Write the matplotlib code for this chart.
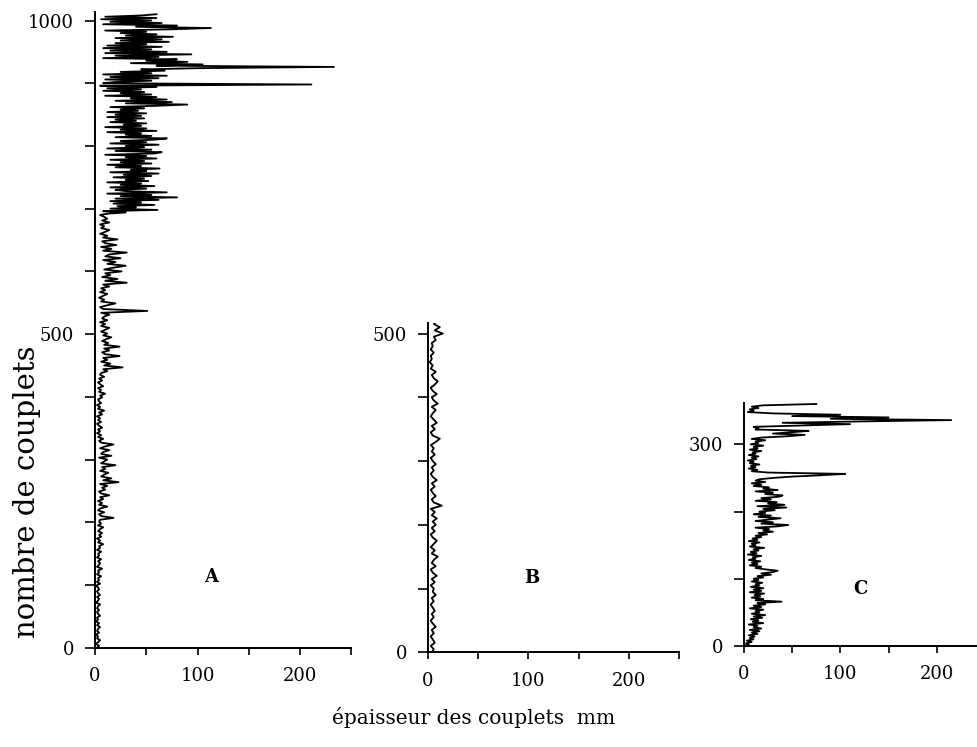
import numpy as np
import matplotlib.pyplot as plt

# couplet thickness (mm)
# A, lower part: one value every 3 couplets (0-687)
thick_A_low = [
    2, 4, 1, 3, 5, 2, 3, 1, 4, 2,
    3, 5, 2, 4, 1, 3, 2, 5, 3, 2,
    4, 2, 3, 5, 1, 3, 4, 2, 5, 3,
    2, 4, 3, 1, 5, 2, 4, 3, 6, 2,
    4, 3, 7, 2, 4, 5, 3, 6, 2, 4,
    3, 6, 2, 5, 4, 8, 3, 5, 2, 6,
    4, 7, 3, 5, 8, 3, 6, 4, 5, 18,
    6, 4, 9, 3, 5, 12, 4, 7, 3, 8,
    5, 14, 6, 4, 10, 7, 12, 5, 23, 8,
    16, 6, 9, 13, 5, 10, 7, 20, 6, 9,
    12, 4, 16, 6, 8, 14, 5, 10, 18, 6,
    4, 8, 3, 6, 2, 5, 3, 7, 4, 2,
    6, 3, 5, 2, 7, 4, 9, 3, 5, 2,
    6, 4, 3, 7, 5, 10, 4, 6, 3, 8,
    5, 3, 7, 4, 9, 5, 6, 12, 8, 27,
    9, 15, 6, 12, 8, 24, 10, 7, 14, 9,
    24, 9, 13, 7, 11, 16, 8, 12, 6, 10,
    14, 6, 10, 5, 12, 7, 9, 14, 6, 51,
    8, 5, 12, 20, 6, 9, 4, 8, 12, 5,
    10, 6, 14, 8, 31, 10, 22, 7, 15, 10,
    26, 9, 18, 30, 12, 20, 8, 25, 10, 14,
    31, 8, 16, 6, 21, 10, 7, 22, 8, 12,
    5, 10, 14, 6, 9, 5, 14, 7, 12, 9,
]
# A, upper part: one value every 2 couplets (690-1010)
thick_A_high = [
    5, 12, 30, 8, 61, 15, 40, 22, 58, 18,
    45, 15, 62, 20, 80, 25, 55, 12, 70, 30,
    20, 50, 15, 58, 25, 45, 12, 52, 30, 48,
    18, 55, 28, 62, 15, 50, 35, 63, 20, 45,
    12, 55, 25, 48, 15, 60, 30, 50, 10, 58,
    65, 20, 55, 12, 48, 30, 62, 15, 50, 25,
    58, 70, 20, 55, 30, 45, 12, 60, 25, 50,
    10, 45, 28, 50, 15, 40, 20, 48, 12, 45,
    20, 50, 12, 42, 25, 48, 15, 60, 90, 30,
    75, 20, 70, 35, 60, 10, 55, 25, 48, 8,
    45, 12, 60, 5, 211, 8, 20, 55, 10, 62,
    15, 70, 8, 55, 25, 68, 45, 100, 233, 60,
    105, 35, 90, 50, 80, 8, 62, 20, 94, 10,
    70, 15, 55, 8, 65, 12, 50, 20, 72, 25,
    65, 20, 76, 30, 60, 25, 50, 10, 75, 113,
    40, 80, 8, 65, 15, 55, 6, 60, 10, 45,
    60,
]
# B: one value every 5 couplets
thick_B = [
    4, 6, 3, 7, 5, 3, 6, 4, 8, 5, 3, 6, 4, 7, 5, 3, 6, 4, 8, 5,
    6, 3, 7, 4, 9, 5, 3, 8, 4, 6, 10, 4, 7, 3, 6, 9, 5, 3, 7, 4,
    8, 5, 9, 4, 7, 3, 14, 6, 4, 8, 5, 3, 7, 4, 9, 5, 3, 6, 4, 8,
    5, 3, 7, 4, 6, 3, 8, 12, 5, 3, 7, 4, 9, 6, 3, 5, 8, 4, 10, 6,
    4, 9, 5, 3, 7, 10, 6, 4, 8, 3, 5, 2, 4, 3, 6, 3, 5, 4, 8, 6,
    15, 7, 12, 6, 10,
]
# C: one value every 2 couplets
thick_C = [
    0, 5, 2, 8, 3, 10, 6, 11, 5, 14,
    8, 16, 6, 18, 10, 14, 5, 20, 9, 15,
    7, 19, 10, 22, 8, 16, 12, 20, 6, 18,
    10, 22, 14, 39, 12, 20, 8, 17, 11, 21,
    6, 18, 10, 20, 7, 16, 12, 19, 8, 15,
    10, 20, 14, 28, 18, 30, 35, 22, 12, 18,
    6, 14, 8, 17, 5, 12, 9, 18, 4, 13,
    7, 15, 10, 21, 6, 12, 8, 16, 5, 14,
    9, 18, 12, 24, 15, 30, 20, 26, 12, 35,
    46, 18, 30, 12, 25, 38, 15, 28, 10, 22,
    16, 32, 20, 44, 14, 42, 25, 34, 12, 28,
    18, 36, 40, 22, 30, 12, 35, 20, 26, 10,
    18, 8, 22, 12, 16, 30, 50, 80, 105, 25,
    8, 14, 5, 12, 7, 16, 6, 10, 4, 13,
    8, 15, 5, 12, 9, 18, 6, 14, 10, 20,
    7, 15, 12, 22, 8, 18, 45, 63, 30, 50,
    67, 12, 15, 10, 60, 110, 40, 118, 215, 90,
    150, 50, 100, 30, 4, 10, 6, 15, 8, 20,
    75,
]

thick_A = thick_A_low + thick_A_high
n_A = np.concatenate([np.arange(len(thick_A_low)) * 3,
                      690 + np.arange(len(thick_A_high)) * 2])
n_B = np.arange(len(thick_B)) * 5
n_C = np.arange(len(thick_C)) * 2

plt.rcParams["font.family"] = "DejaVu Serif"

fig = plt.figure(figsize=(9.77, 7.47), dpi=100)

panels = [
    # data, index, rect, ylim top, labelled y ticks, letter position, letter
    (thick_A, n_A, [0.0972, 0.1329, 0.2625, 0.8514], 1014, [0, 500, 1000], (113, 113), "A"),
    (thick_B, n_B, [0.4378, 0.1268, 0.2574, 0.4412], 517, [0, 500], (103, 117), "B"),
    (thick_C, n_C, [0.7615, 0.1352, 0.2467, 0.3249], 361, [0, 300], (121, 85), "C"),
]

for vals, idx, rect, ytop, yt, lpos, name in panels:
    ax = fig.add_axes(rect)
    ax.plot(vals, idx, color="black", lw=1.3)
    ax.set_xlim(0, 250)
    ax.set_ylim(0, ytop)
    ax.spines["top"].set_visible(False)
    ax.spines["right"].set_visible(False)
    for s in ("left", "bottom"):
        ax.spines[s].set_linewidth(1.4)
    ax.set_xticks([0, 100, 200])
    ax.set_xticks([50, 150, 250], minor=True)
    ax.set_yticks(yt)
    ax.set_yticks(np.arange(0, ytop, 100), minor=True)
    ax.tick_params(which="both", direction="out", width=1.2)
    ax.tick_params(axis="y", which="both", length=7, pad=8, labelsize=13)
    ax.tick_params(axis="x", which="both", length=5, pad=9, labelsize=13)
    ax.text(lpos[0], lpos[1], name, fontsize=13, fontweight="bold",
            ha="center", va="center")
    ax.patch.set_alpha(0)

fig.text(474 / 977, 1 - 718 / 747, "épaisseur des couplets  mm",
         ha="center", va="center", fontsize=14.5)
fig.text(27 / 977, 1 - 492 / 747, "nombre de couplets",
         ha="center", va="center", rotation=90, fontsize=21)

fig.savefig("out.png", dpi=100)
